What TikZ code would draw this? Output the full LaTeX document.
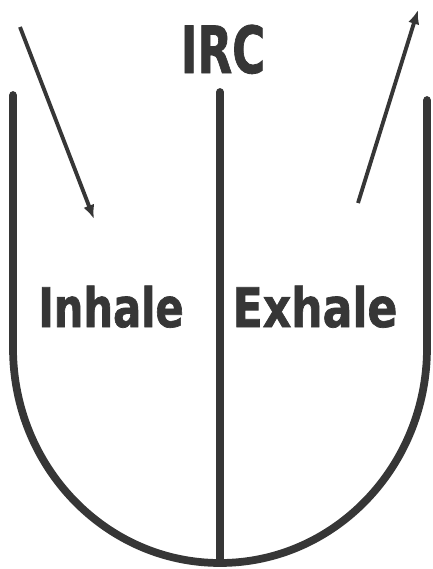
\documentclass[tikz,border=0pt]{standalone}
\usepackage{fontspec}
\newfontfamily\signfont{DejaVu Sans Condensed Bold}[FakeBold=1.3]
\usetikzlibrary{arrows.meta, positioning}
\definecolor{inkgray}{HTML}{363636}
\tikzset{
  wall/.style={line width=4.4pt, draw=inkgray, line cap=round, line join=round},
  breatharrow/.style={-{Latex[length=8pt,width=6.5pt]}, line width=2.2pt, draw=inkgray},
  signlabel/.style={anchor=base, text=inkgray, inner sep=0pt,
    font=\signfont\fontsize{#1}{#1}\selectfont},
}

\begin{document}
\begin{tikzpicture}[x=0.02cm, y=-0.02cm]
  \useasboundingbox (0,0) rectangle (433,569);

  % heading
  \node[signlabel=37] (irc) at (223,73) {\scalebox{0.77}[1]{IRC}};

  % the two halves
  \node[signlabel=31] (inhale) at (111,327) {\scalebox{0.85}[1]{Inhale}};
  \node[signlabel=31] (exhale) at (315,327) {\scalebox{0.9}[1]{Exhale}};

  % outer cup and divider
  \draw[wall] (13,95) -- (13,348) arc[start angle=180, end angle=0,
      x radius=207, y radius=215] -- (427,100);
  \coordinate (divtop) at (220,92);
  \coordinate (divbot) at (220,563);
  \draw[wall] (divtop) -- (divbot);

  % air in and out
  \coordinate (inA) at (20,27);
  \coordinate (inB) at (94,219);
  \coordinate (outA) at (358,203);
  \coordinate (outB) at (418,10);
  \draw[breatharrow] (inA) -- (inB);
  \draw[breatharrow] (outA) -- (outB);
\end{tikzpicture}
\end{document}
